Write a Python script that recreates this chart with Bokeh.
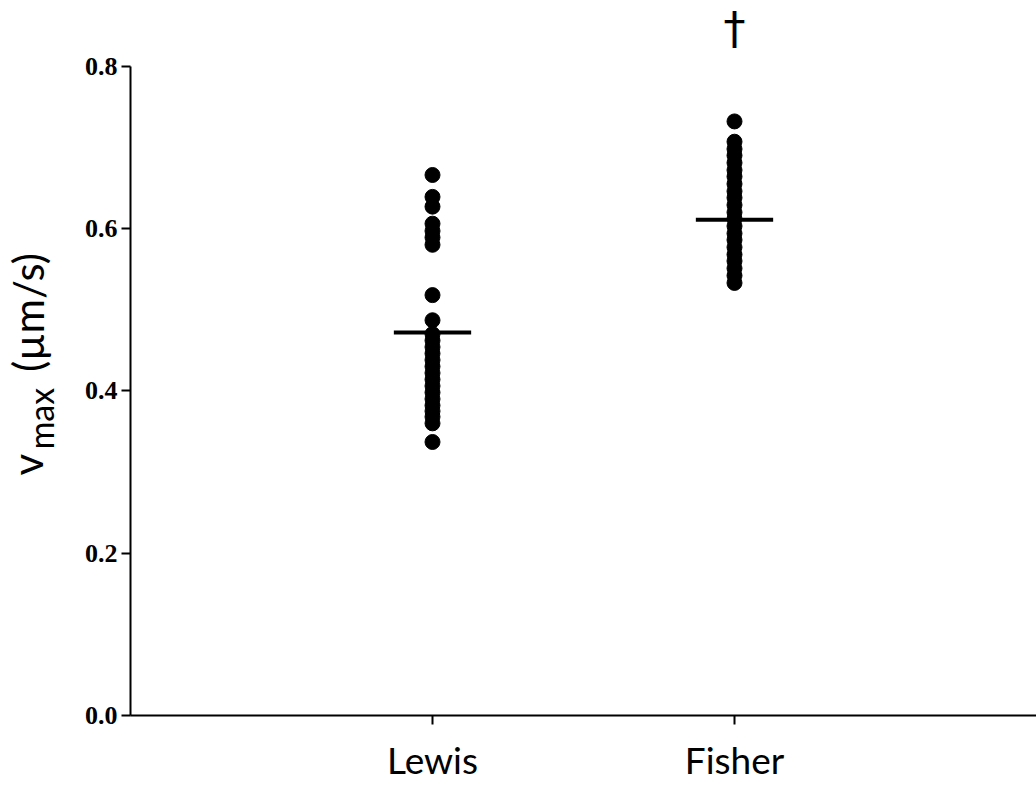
import math
from bokeh.plotting import figure
from bokeh.layouts import row
from bokeh.models import Range1d, FixedTicker
from bokeh.core.properties import value
from bokeh.embed import file_html
from bokeh.resources import INLINE

categories = ["Lewis", "Fisher"]
lewis_vmax = [0.666, 0.639, 0.627, 0.606, 0.597, 0.589, 0.580, 0.518, 0.487,
              0.470, 0.462, 0.454, 0.446, 0.438, 0.430, 0.422, 0.414, 0.406,
              0.398, 0.390, 0.382, 0.375, 0.368, 0.360, 0.337]
fisher_vmax = [0.732, 0.707, 0.698, 0.690, 0.681, 0.672, 0.664, 0.655, 0.646,
               0.638, 0.629, 0.620, 0.612, 0.603, 0.594, 0.586, 0.577, 0.568,
               0.560, 0.551, 0.542, 0.533]
group_means = [0.472, 0.611]
sig_marks = ["", "\u2020"]
sig_y = [None, 0.846]
y_ticks = [0.0, 0.2, 0.4, 0.6, 0.8]

positions = [i + 1 for i in range(len(categories))]

H = 784
LW = 70
FB = 718  # frame bottom in page pixels

p = figure(width=1036 - LW, height=H, output_backend="svg", toolbar_location=None,
           x_range=Range1d(0, 3), y_range=Range1d(0, 0.881),
           min_border_left=130 - LW, min_border_right=0, min_border_top=0,
           min_border_bottom=H - FB)
p.outline_line_color = None
p.xgrid.grid_line_color = None
p.ygrid.grid_line_color = None
p.background_fill_color = "white"
p.border_fill_color = "white"

# points
for pos, vals in zip(positions, [lewis_vmax, fisher_vmax]):
    p.scatter(x=[pos] * len(vals), y=vals, size=15, marker="circle",
              fill_color="black", line_color="black")

# mean bars
half = 0.128
p.segment(x0=[x - half for x in positions], x1=[x + half for x in positions],
          y0=group_means, y1=group_means, line_color="black", line_width=4)

# significance marks
for pos, mark, yv in zip(positions, sig_marks, sig_y):
    if mark:
        p.text(x=[pos], y=[yv], text=[mark], text_font=value("DejaVu Sans"),
               text_font_size="44px", text_align="center",
               text_baseline="middle", text_color="black")

# axes
xa = p.xaxis[0]
xa.ticker = FixedTicker(ticks=positions)
xa.major_label_overrides = {pos: c for pos, c in zip(positions, categories)}
xa.minor_tick_line_color = None
xa.major_tick_in = 0
xa.major_tick_out = 9
xa.major_tick_line_width = 2
xa.axis_line_width = 2
xa.major_label_text_font = "Lato"
xa.major_label_text_font_size = "37px"
xa.major_label_text_color = "black"
xa.major_label_standoff = 12

ya = p.yaxis[0]
ya.ticker = FixedTicker(ticks=y_ticks)
ya.bounds = (0, 0.8)
ya.minor_tick_line_color = None
ya.major_tick_in = 0
ya.major_tick_out = 9
ya.major_tick_line_width = 2
ya.axis_line_width = 2
ya.major_label_text_font = "Liberation Serif"
ya.major_label_text_font_style = "bold"
ya.major_label_text_font_size = "26px"
ya.major_label_text_color = "black"
ya.major_label_standoff = 4
ya.major_label_overrides = {t: f"{t:.1f}" for t in y_ticks}

# y-axis title panel (v with subscript "max", then unit), in page pixels
lab = figure(width=LW, height=H, output_backend="svg", toolbar_location=None,
             x_range=Range1d(0, LW), y_range=Range1d(0, FB),
             x_axis_location=None, y_axis_location=None,
             min_border_left=0, min_border_right=0,
             min_border_top=0, min_border_bottom=H - FB)
lab.outline_line_color = None
lab.xgrid.grid_line_color = None
lab.ygrid.grid_line_color = None
lab.background_fill_color = "white"
lab.border_fill_color = "white"

title_parts = ["v", "max", "(\u00b5m/s)"]
title_sizes = ["42px", "34px", "42px"]
title_x = [26, 40, 27]
title_y = [477, 451, 373]
for t, s, tx, ty in zip(title_parts, title_sizes, title_x, title_y):
    lab.text(x=[tx], y=[FB - ty], text=[t], angle=math.pi / 2,
             text_font=value("Lato"), text_font_size=s, text_color="black",
             text_align="left", text_baseline="alphabetic")

layout = row(lab, p)
open("out.html", "w").write(file_html(layout, INLINE))
